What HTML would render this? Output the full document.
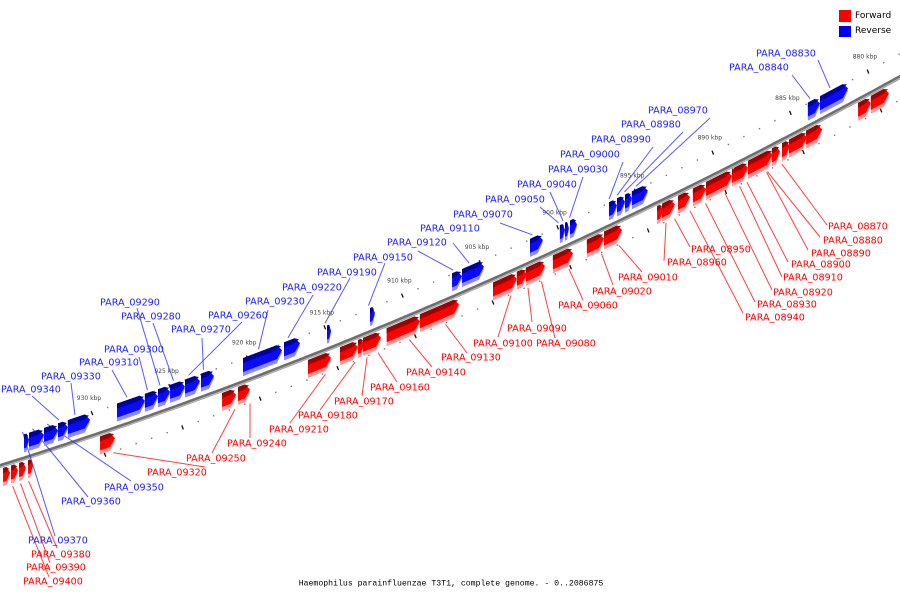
<!DOCTYPE html>
<html><head><meta charset="utf-8"><style>
html,body{margin:0;padding:0;background:#fff;}
svg{display:block;font-family:"DejaVu Sans","Liberation Sans",sans-serif;}
.lbl{font-size:9.6px;dominant-baseline:central;}
.tk{font-size:6px;fill:#444;}
</style></head><body>
<svg id="chart" width="900" height="600" viewBox="0 0 900 600" xmlns="http://www.w3.org/2000/svg">
<g id="axisg"></g>
<g id="ticks"></g>
<g id="leaders"></g>
<g id="genes"></g>
<g id="labels"></g>
<g>
<rect x="839" y="10" width="12" height="12" fill="#ff0000"/>
<text x="855" y="16" font-size="9" dominant-baseline="central">Forward</text>
<rect x="839" y="26" width="12" height="11" fill="#0000ff"/>
<text x="855" y="31" font-size="9" dominant-baseline="central">Reverse</text>
</g>
<text x="451" y="584" text-anchor="middle" font-family="'Liberation Mono',monospace" font-size="8.2" dominant-baseline="central">Haemophilus parainfluenzae T3T1, complete genome. - 0..2086875</text>
</svg>
<script>
// ---- data ----
const tickKbp = [930, 925, 920, 915, 910, 905, 900, 895, 890, 885, 880];
const fwdNames = ["PARA_09400","PARA_09390","PARA_09380","PARA_09370x","PARA_09320","PARA_09250","PARA_09240","PARA_09210","PARA_09180","PARA_09170","PARA_09160","PARA_09140","PARA_09130","PARA_09100","PARA_09090","PARA_09080","PARA_09060","PARA_09020","PARA_09010","PARA_08960","PARA_08950","PARA_08940","PARA_08930","PARA_08920","PARA_08910","PARA_08900","PARA_08890","PARA_08880","PARA_08870","PARA_08865","PARA_08860","PARA_08850","PARA_08845","PARA_08842"];
const fwdStart = [935.73,935.22,934.70,934.12,929.48,921.62,920.59,916.08,914.02,912.86,912.54,911.01,908.87,904.16,902.62,902.04,900.30,898.11,897.01,893.59,893.27,892.24,891.28,890.44,888.76,888.63,887.73,887.54,886.19,885.54,885.09,883.99,880.64,879.81];
const fwdEnd   = [935.28,934.77,934.25,933.80,928.52,920.72,919.82,914.60,912.86,912.47,911.38,908.87,906.35,902.62,901.97,900.81,899.01,897.01,895.85,893.21,892.44,891.47,890.44,888.76,888.57,887.73,886.12,886.19,885.67,885.03,883.93,882.96,879.81,878.65];
const revNames = ["PARA_09370","PARA_09360","PARA_09350","PARA_09340","PARA_09330","PARA_09310","PARA_09300","PARA_09290","PARA_09280","PARA_09275","PARA_09270","PARA_09230","PARA_09220","PARA_09190","PARA_09150","PARA_09120","PARA_09110","PARA_09070","PARA_09050","PARA_09040","PARA_09030","PARA_09000","PARA_08990","PARA_08980","PARA_08970","PARA_08840","PARA_08830"];
const revStart = [934.38,934.06,933.09,932.19,931.55,928.39,926.59,925.75,924.97,924.01,922.98,920.27,917.63,914.86,912.09,906.80,906.16,901.78,899.85,899.52,899.20,896.69,896.17,895.66,895.21,883.87,883.09];
const revEnd   = [934.06,933.09,932.19,931.55,930.13,926.59,925.75,924.97,924.01,923.04,922.14,917.76,916.60,914.60,911.77,906.16,904.74,900.95,899.52,899.27,898.75,896.17,895.66,895.21,894.18,883.09,881.29];
// label layout (text left x, centre y, leader end x, y)
const fwdLabels = {
"PARA_09400":[23,582,49,577],"PARA_09390":[26,568,50,563],"PARA_09380":[31,555,57,548],
"PARA_09320":[147,473,205,467],"PARA_09250":[186,459,212,453],"PARA_09240":[227,444,250,438],
"PARA_09210":[269,430,290,423],"PARA_09180":[298,416,320,410],"PARA_09170":[334,402,362,396],
"PARA_09160":[370,388,397,382],"PARA_09140":[406,373,432,367],"PARA_09130":[441,358,467,353],
"PARA_09100":[473,344,498,337],"PARA_09090":[507,329,532,322],"PARA_09080":[536,344,555,338],
"PARA_09060":[558,306,583,300],"PARA_09020":[592,292,613,285],"PARA_09010":[618,278,642,272],
"PARA_08960":[667,263,664,261],"PARA_08950":[691,250,690,247],"PARA_08940":[745,318,743,313],
"PARA_08930":[757,305,755,302],"PARA_08920":[773,293,772,290],"PARA_08910":[783,278,782,277],
"PARA_08900":[791,265,788,262],"PARA_08890":[811,254,808,250],"PARA_08880":[823,241,820,237],
"PARA_08870":[828,227,827,225]};
const revLabels = {
"PARA_09370":[28,541,55,536],"PARA_09360":[61,502,88,497],"PARA_09350":[104,488,131,481],
"PARA_09340":[1,390,32,396],"PARA_09330":[41,377,71,383],"PARA_09310":[79,363,112,370],
"PARA_09300":[104,350,139,357],"PARA_09290":[100,303,137,308],"PARA_09280":[121,317,153,323],
"PARA_09270":[171,330,202,338],"PARA_09260":[208,316,242,322],"PARA_09230":[245,302,268,310],
"PARA_09220":[282,288,313,295],"PARA_09190":[317,273,350,278],"PARA_09150":[353,258,385,263],
"PARA_09120":[387,243,418,251],"PARA_09110":[420,229,453,243],"PARA_09070":[453,215,500,223],
"PARA_09050":[485,200,540,207],"PARA_09040":[517,185,550,192],"PARA_09030":[548,170,583,177],
"PARA_09000":[560,155,623,162],"PARA_08990":[591,140,653,147],"PARA_08980":[621,125,683,132],
"PARA_08970":[648,111,710,118],"PARA_08840":[729,68,792,75],"PARA_08830":[756,54,818,60]};
const revLabelAlias = {"PARA_09275":"PARA_09260"};

// ---- scales ----
function xOf(k){ return 92 + (930 - k) * 15.52; }
function ay(x){ return 466 - 0.313 * x - 1.325e-4 * x * x; }
const NS = "http://www.w3.org/2000/svg";
function mk(tag, attrs, parent){
  const e = document.createElementNS(NS, tag);
  for (const a in attrs) e.setAttribute(a, attrs[a]);
  parent.appendChild(e); return e;
}
const axisg = document.getElementById('axisg');
const ticks = document.getElementById('ticks');
const leaders = document.getElementById('leaders');
const genes = document.getElementById('genes');
const labels = document.getElementById('labels');

let pts = [];
for (let x = -5; x <= 905; x += 5) pts.push(x + "," + (ay(x)).toFixed(1));
const al = mk('polyline', {points: pts.join(' '), fill: 'none', stroke: '#6e6e6e', 'stroke-width': 4}, axisg);


const al2 = mk('polyline', {points: pts.join(' '), fill: 'none', stroke: '#b8b8b8', 'stroke-width': 1.2, transform: 'translate(0,1.2)'}, axisg);



tickKbp.forEach(k => {
  const x = xOf(k);
  const y = ay(x);
  const d1 = mk('line', {x1: x - 0.8, y1: y - 25, x2: x + 0.8, y2: y - 21, stroke: '#111', 'stroke-width': 1.3}, ticks);
  
  
  const x2 = x + 13;
  const y2 = ay(x2);
  const d2 = mk('line', {x1: x2 - 0.8, y1: y2 + 21, x2: x2 + 0.8, y2: y2 + 25, stroke: '#111', 'stroke-width': 1.3}, ticks);
  
  
  const t = mk('text', {x: x - 3, y: y - 36, 'text-anchor': 'middle', class: 'tk'}, ticks);
  t.textContent = k + " kbp";
  
  
  for (let i = 1; i < 5; i++) {
    const dx = xOf(k - i);
    const c = mk('rect', {x: dx - 0.6, y: ay(dx) - 24, width: 1.4, height: 1.4, fill: '#777'}, ticks);
    
    
    const dx2 = dx + 13;
    const c2 = mk('rect', {x: dx2 - 0.6, y: ay(dx2) + 22, width: 1.4, height: 1.4, fill: '#777'}, ticks);
    
    
  }
});

function shape(x1, x2, top, h){
  const t = Math.min(5, (x2 - x1) * 0.5);
  const xt = x2 - t;
  return [
    [x1, ay(x1) + top], [xt, ay(xt) + top], [x2, ay(x2) + top + h / 2],
    [xt, ay(xt) + top + h], [x1, ay(x1) + top + h]
  ].map(p => p[0].toFixed(1) + "," + p[1].toFixed(1)).join(' ');
}
function drawGene(x1, x2, top, cols, name){
  const g = mk('g', {}, genes);
  
  
  mk('polygon', {points: shape(x1, x2, top, 18), fill: cols[2]}, g);
  mk('polygon', {points: shape(x1, x2, top, 14), fill: cols[1]}, g);
  mk('polygon', {points: shape(x1, x2 - 1, top, 5), fill: cols[0]}, g);
}
function drawLabel(info, name, color, gx, gy){
  const ln = mk('line', {x1: gx, y1: gy, x2: info[2], y2: info[3], stroke: color, 'stroke-width': 1, opacity: 0.75}, leaders);
  
  
  const t = mk('text', {x: info[0], y: info[1], fill: color, class: 'lbl'}, labels);
  t.textContent = name;
  
  
}

fwdNames.forEach((n, i) => {
  const x1 = xOf(fwdStart[i]), x2 = xOf(fwdEnd[i]);
  drawGene(x1, x2, 3, ['#a00000', '#ff0000', '#ff9a9a'], n);
  if (fwdLabels[n]) {
    const gx = (x1 + x2) / 2 + 6;
    drawLabel(fwdLabels[n], n, '#ff0000', gx, ay(gx) + 24);
  }
});
revNames.forEach((n, i) => {
  const x1 = xOf(revStart[i]), x2 = xOf(revEnd[i]);
  drawGene(x1, x2, -24, ['#0000a0', '#0a0aff', '#8c8cff'], n);
  const key = revLabels[n] ? n : revLabelAlias[n];
  if (key) {
    const gx = (x1 + x2) / 2 - 4;
    drawLabel(revLabels[key], key, '#2020ff', gx, ay(gx) - 27);
  }
});
</script>
</body></html>
